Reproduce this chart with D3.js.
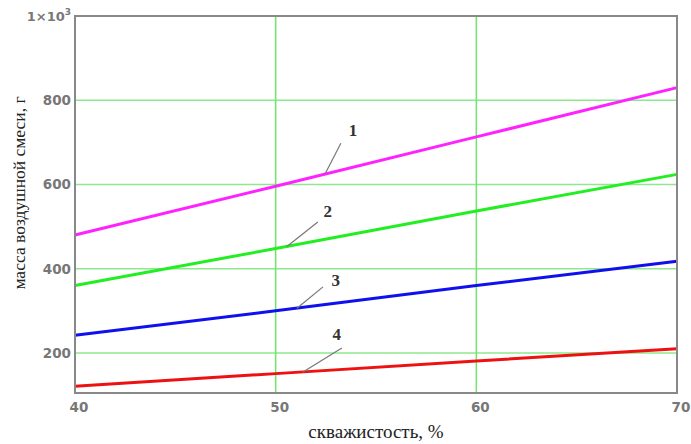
<!DOCTYPE html>
<html><head><meta charset="utf-8">
<script src="https://cdn.jsdelivr.net/npm/d3@7"></script>
<style>body{margin:0;background:#fff}svg{display:block}</style>
</head><body>
<svg id="c" width="691" height="444"></svg>
<script>
const xValues = [40, 50, 60, 70];
const series1 = [480, 596, 713, 830];
const series2 = [360, 448, 537, 624];
const series3 = [242, 300, 360, 418];
const series4 = [121, 151, 181, 210];
const seriesNames = ["1", "2", "3", "4"];
const seriesColors = ["#ff22ff", "#22ee22", "#1010ee", "#ee1111"];
const xTicks = [40, 50, 60, 70];
const yTicks = [200, 400, 600, 800];
const xTitle = "скважистость, %";
const yTitle = "масса воздушной смеси, г";
// annotation anchors in data coordinates
const labelX = [53.85, 52.6, 53.0, 53.05];
const labelY = [725, 532, 368, 240];
const leaderStartX = [53.25, 52.1, 52.36, 53.3];
const leaderStartY = [698, 511, 357, 212];
const leaderEndX = [52.46, 50.56, 51.06, 51.36];

const svg = d3.select("#c");
const L = 75, R = 677, T = 16, B = 393;
const x = d3.scaleLinear().domain([40, 70]).range([L, R]);
const y = d3.scaleLinear().domain([105, 1000]).range([B, T]);

// grid
svg.append("g").selectAll("line").data(yTicks).join("line")
  .attr("x1", L).attr("x2", R).attr("y1", d => y(d)).attr("y2", d => y(d))
  .attr("stroke", "#8ee88e").attr("stroke-width", 1.5);
svg.append("g").selectAll("line").data([50, 60]).join("line")
  .attr("y1", T).attr("y2", B).attr("x1", d => x(d)).attr("x2", d => x(d))
  .attr("stroke", "#6ee66e").attr("stroke-width", 1.5);

const all = [series1, series2, series3, series4];
const line = d3.line().x((d, i) => x(xValues[i])).y(d => y(d));
all.forEach((s, k) => {
  svg.append("path").attr("d", line(s)).attr("fill", "none")
    .attr("stroke", seriesColors[k]).attr("stroke-width", 3);
});

// leaders & labels
all.forEach((s, k) => {
  const interp = d3.scaleLinear().domain(xValues).range(s);
  svg.append("line")
    .attr("x1", x(leaderStartX[k])).attr("y1", y(leaderStartY[k]))
    .attr("x2", x(leaderEndX[k])).attr("y2", y(interp(leaderEndX[k])))
    .attr("stroke", "#777").attr("stroke-width", 1.2);
  svg.append("text").attr("x", x(labelX[k])).attr("y", y(labelY[k]))
    .attr("text-anchor", "middle").attr("dominant-baseline", "middle")
    .attr("font-family", "Liberation Serif, serif").attr("font-weight", "bold")
    .attr("font-size", 17).attr("fill", "#333").text(seriesNames[k]);
});

// frame
svg.append("rect").attr("x", L).attr("y", T).attr("width", R - L).attr("height", B - T)
  .attr("fill", "none").attr("stroke", "#888").attr("stroke-width", 2);

// tick labels
const tickFont = "DejaVu Sans, sans-serif";
svg.append("g").selectAll("text").data(xTicks).join("text")
  .attr("x", d => x(d) + 4).attr("y", 412).attr("text-anchor", "middle")
  .attr("font-family", tickFont).attr("font-weight", "bold").attr("font-size", 13.5)
  .attr("fill", "#777").text(d => d);
svg.append("g").selectAll("text").data(yTicks).join("text")
  .attr("x", 71).attr("y", d => y(d) + 5).attr("text-anchor", "end")
  .attr("font-family", tickFont).attr("font-weight", "bold").attr("font-size", 13.5)
  .attr("fill", "#777").text(d => d);
const topLab = svg.append("text").attr("x", 71).attr("y", y(1000) + 5).attr("text-anchor", "end")
  .attr("font-family", tickFont).attr("font-weight", "bold").attr("font-size", 13).attr("fill", "#777");
topLab.append("tspan").text("1×10");
topLab.append("tspan").attr("font-size", 9).attr("dy", -6).text("3");

// titles
svg.append("text").attr("x", 376).attr("y", 438).attr("text-anchor", "middle")
  .attr("font-family", "Liberation Serif, serif").attr("font-size", 19).attr("fill", "#222")
  .text(xTitle);
svg.append("text").attr("transform", "translate(25,193) rotate(-90)").attr("text-anchor", "middle")
  .attr("font-family", "Liberation Serif, serif").attr("font-size", 17.5).attr("fill", "#222")
  .text(yTitle);
</script>
</body></html>
